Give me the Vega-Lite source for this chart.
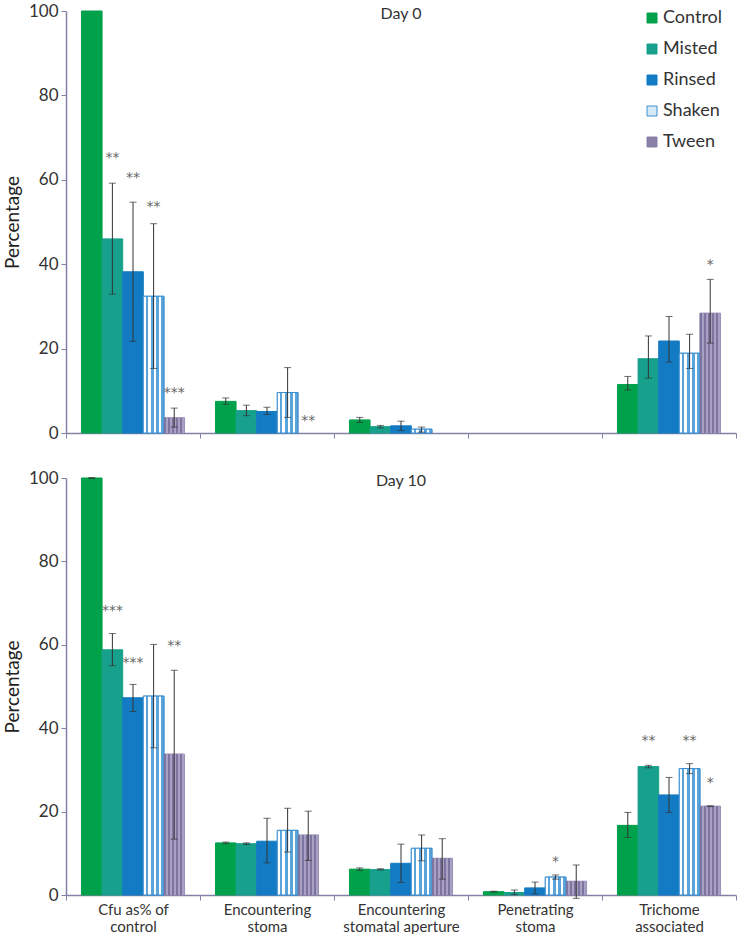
{
  "$schema": "https://vega.github.io/schema/vega-lite/v6.json",
  "padding": {"left": 3, "top": 2, "right": 4, "bottom": 0},
  "spacing": 28,
  "config": {
    "view": {"stroke": null},
    "font": "Lato",
    "axis": {"domainColor": "#8282a8", "domainWidth": 1.5, "tickColor": "#8282a8", "tickSize": 5, "labelColor": "#333333", "titleColor": "#222222", "grid": false},
    "legend": {"labelFont": "Lato", "labelFontSize": 18, "labelColor": "#333333"}
  },
  "datasets": {
    "bars": [
      {"day": "Day 0", "measure": "Cfu as% of control", "treatment": "Control", "value": 100},
      {"day": "Day 0", "measure": "Cfu as% of control", "treatment": "Misted", "value": 46, "lo": 32.9, "hi": 59.2, "sig": "**", "sigY": 66},
      {"day": "Day 0", "measure": "Cfu as% of control", "treatment": "Rinsed", "value": 38.2, "lo": 21.7, "hi": 54.7, "sig": "**", "sigY": 61.4},
      {"day": "Day 0", "measure": "Cfu as% of control", "treatment": "Shaken", "value": 32.4, "lo": 15.3, "hi": 49.6, "sig": "**", "sigY": 54.5},
      {"day": "Day 0", "measure": "Cfu as% of control", "treatment": "Tween", "value": 3.6, "lo": 1.4, "hi": 5.9, "sig": "***", "sigY": 10.4},
      {"day": "Day 0", "measure": "Encountering stoma", "treatment": "Control", "value": 7.5, "lo": 6.8, "hi": 8.3},
      {"day": "Day 0", "measure": "Encountering stoma", "treatment": "Misted", "value": 5.3, "lo": 4.1, "hi": 6.6},
      {"day": "Day 0", "measure": "Encountering stoma", "treatment": "Rinsed", "value": 5.1, "lo": 4.4, "hi": 6.1},
      {"day": "Day 0", "measure": "Encountering stoma", "treatment": "Shaken", "value": 9.6, "lo": 3.7, "hi": 15.5},
      {"day": "Day 0", "measure": "Encountering stoma", "treatment": "Tween", "value": 0, "sig": "**", "sigY": 3.7},
      {"day": "Day 0", "measure": "Encountering stomatal aperture", "treatment": "Control", "value": 3.1, "lo": 2.5, "hi": 3.7},
      {"day": "Day 0", "measure": "Encountering stomatal aperture", "treatment": "Misted", "value": 1.5, "lo": 1.2, "hi": 1.8},
      {"day": "Day 0", "measure": "Encountering stomatal aperture", "treatment": "Rinsed", "value": 1.7, "lo": 0.6, "hi": 2.8},
      {"day": "Day 0", "measure": "Encountering stomatal aperture", "treatment": "Shaken", "value": 0.9, "lo": 0.2, "hi": 1.4},
      {"day": "Day 0", "measure": "Encountering stomatal aperture", "treatment": "Tween", "value": 0},
      {"day": "Day 0", "measure": "Penetrating stoma", "treatment": "Control", "value": 0},
      {"day": "Day 0", "measure": "Penetrating stoma", "treatment": "Misted", "value": 0},
      {"day": "Day 0", "measure": "Penetrating stoma", "treatment": "Rinsed", "value": 0},
      {"day": "Day 0", "measure": "Penetrating stoma", "treatment": "Shaken", "value": 0},
      {"day": "Day 0", "measure": "Penetrating stoma", "treatment": "Tween", "value": 0},
      {"day": "Day 0", "measure": "Trichome associated", "treatment": "Control", "value": 11.5, "lo": 10.2, "hi": 13.4},
      {"day": "Day 0", "measure": "Trichome associated", "treatment": "Misted", "value": 17.6, "lo": 13, "hi": 23},
      {"day": "Day 0", "measure": "Trichome associated", "treatment": "Rinsed", "value": 21.8, "lo": 16.8, "hi": 27.6},
      {"day": "Day 0", "measure": "Trichome associated", "treatment": "Shaken", "value": 18.9, "lo": 15.3, "hi": 23.4},
      {"day": "Day 0", "measure": "Trichome associated", "treatment": "Tween", "value": 28.4, "lo": 21.3, "hi": 36.4, "sig": "*", "sigY": 40.8},
      {"day": "Day 10", "measure": "Cfu as% of control", "treatment": "Control", "value": 100, "lo": 99.9, "hi": 100.1},
      {"day": "Day 10", "measure": "Cfu as% of control", "treatment": "Misted", "value": 58.8, "lo": 55.0, "hi": 62.7, "sig": "***", "sigY": 69.1},
      {"day": "Day 10", "measure": "Cfu as% of control", "treatment": "Rinsed", "value": 47.3, "lo": 44.0, "hi": 50.5, "sig": "***", "sigY": 56.6},
      {"day": "Day 10", "measure": "Cfu as% of control", "treatment": "Shaken", "value": 47.7, "lo": 35.3, "hi": 60.1},
      {"day": "Day 10", "measure": "Cfu as% of control", "treatment": "Tween", "value": 33.8, "lo": 13.4, "hi": 53.9, "sig": "**", "sigY": 60.7},
      {"day": "Day 10", "measure": "Encountering stoma", "treatment": "Control", "value": 12.5, "lo": 12.3, "hi": 12.7},
      {"day": "Day 10", "measure": "Encountering stoma", "treatment": "Misted", "value": 12.3, "lo": 12.1, "hi": 12.5},
      {"day": "Day 10", "measure": "Encountering stoma", "treatment": "Rinsed", "value": 12.9, "lo": 7.7, "hi": 18.4},
      {"day": "Day 10", "measure": "Encountering stoma", "treatment": "Shaken", "value": 15.5, "lo": 10.3, "hi": 20.8},
      {"day": "Day 10", "measure": "Encountering stoma", "treatment": "Tween", "value": 14.4, "lo": 8.3, "hi": 20.1},
      {"day": "Day 10", "measure": "Encountering stomatal aperture", "treatment": "Control", "value": 6.2, "lo": 5.9, "hi": 6.5},
      {"day": "Day 10", "measure": "Encountering stomatal aperture", "treatment": "Misted", "value": 6.1, "lo": 6.0, "hi": 6.3},
      {"day": "Day 10", "measure": "Encountering stomatal aperture", "treatment": "Rinsed", "value": 7.6, "lo": 3.0, "hi": 12.2},
      {"day": "Day 10", "measure": "Encountering stomatal aperture", "treatment": "Shaken", "value": 11.2, "lo": 8.2, "hi": 14.4},
      {"day": "Day 10", "measure": "Encountering stomatal aperture", "treatment": "Tween", "value": 8.8, "lo": 3.8, "hi": 13.5},
      {"day": "Day 10", "measure": "Penetrating stoma", "treatment": "Control", "value": 0.8, "lo": 0.7, "hi": 0.9},
      {"day": "Day 10", "measure": "Penetrating stoma", "treatment": "Misted", "value": 0.6, "lo": 0.1, "hi": 1.2},
      {"day": "Day 10", "measure": "Penetrating stoma", "treatment": "Rinsed", "value": 1.7, "lo": 0.3, "hi": 3.1},
      {"day": "Day 10", "measure": "Penetrating stoma", "treatment": "Shaken", "value": 4.3, "lo": 3.8, "hi": 4.8, "sig": "*", "sigY": 8.8},
      {"day": "Day 10", "measure": "Penetrating stoma", "treatment": "Tween", "value": 3.3, "lo": -0.8, "hi": 7.2},
      {"day": "Day 10", "measure": "Trichome associated", "treatment": "Control", "value": 16.7, "lo": 13.8, "hi": 19.8},
      {"day": "Day 10", "measure": "Trichome associated", "treatment": "Misted", "value": 30.8, "lo": 30.5, "hi": 31.1, "sig": "**", "sigY": 37.8},
      {"day": "Day 10", "measure": "Trichome associated", "treatment": "Rinsed", "value": 24, "lo": 19.8, "hi": 28.2},
      {"day": "Day 10", "measure": "Trichome associated", "treatment": "Shaken", "value": 30.3, "lo": 29.1, "hi": 31.5, "sig": "**", "sigY": 37.8},
      {"day": "Day 10", "measure": "Trichome associated", "treatment": "Tween", "value": 21.3, "lo": 21.2, "hi": 21.4, "sig": "*", "sigY": 27.7}
    ],
    "panels": [
      {"day": "Day 0", "measure": "Encountering stomatal aperture", "y": 99.2},
      {"day": "Day 10", "measure": "Encountering stomatal aperture", "y": 99.2}
    ]
  },
  "resolve": {"scale": {"fill": "independent", "stroke": "independent"}, "legend": {"fill": "independent", "stroke": "independent"}},
  "vconcat": [
    {
      "width": 670,
      "height": 422,
      "data": {"name": "bars"},
      "encoding": {
        "x": {"field": "measure", "type": "nominal", "sort": null,
          "scale": {"domain": ["Cfu as% of control", "Encountering stoma", "Encountering stomatal aperture", "Penetrating stoma", "Trichome associated"], "paddingInner": 0, "paddingOuter": 0},
          "axis": {"title": null, "labels": false, "tickBand": "extent", "labelAngle": 0}},
        "xOffset": {"field": "treatment", "type": "nominal", "scale": {"domain": ["Control", "Misted", "Rinsed", "Shaken", "Tween"], "paddingInner": 0, "paddingOuter": 0.75}}
      },
      "layer": [
        {
          "transform": [{"filter": "datum.day == 'Day 0' && datum.value > 0"}],
          "mark": {"type": "bar", "strokeWidth": 1},
          "encoding": {
            "y": {"field": "value", "type": "quantitative", "scale": {"domain": [0, 100], "nice": false},
              "axis": {"title": "Percentage", "titleFontSize": 19, "titleFontWeight": "normal", "titlePadding": 6, "values": [0, 20, 40, 60, 80, 100], "labelFontSize": 17, "labelPadding": 3}},
            "fill": {"field": "treatment", "type": "nominal", "scale": {"domain": ["Control", "Misted", "Rinsed", "Shaken", "Tween"], "range": ["#00a14b", "#17a08b", "#137ac4", "#d5e9f7", "#8a81a8"]},
              "legend": {"title": null, "orient": "none", "legendX": 577, "legendY": -2, "padding": 0, "symbolType": "square", "symbolSize": 100, "rowPadding": 13, "labelOffset": 2, "symbolStrokeWidth": 1}},
            "stroke": {"field": "treatment", "type": "nominal", "scale": {"domain": ["Control", "Misted", "Rinsed", "Shaken", "Tween"], "range": ["#00a14b", "#17a08b", "#137ac4", "#3c8fd0", "#8a81a8"]},
              "legend": {"title": null, "orient": "none", "legendX": 577, "legendY": -2, "padding": 0, "symbolType": "square", "symbolSize": 100, "rowPadding": 13, "labelOffset": 2, "symbolStrokeWidth": 1}}
          }
        },
        {
          "transform": [{"filter": "datum.day == 'Day 0' && datum.value > 0 && datum.treatment == 'Shaken'"}],
          "mark": {"type": "bar", "stroke": "#3c8fd0", "strokeWidth": 1,
            "fill": {"gradient": "linear", "x1": 0, "y1": 0, "x2": 1, "y2": 0, "stops": [
              {"offset": 0, "color": "#ffffff"}, {"offset": 0.13, "color": "#ffffff"}, {"offset": 0.13, "color": "#5aa4dc"}, {"offset": 0.25, "color": "#5aa4dc"},
              {"offset": 0.25, "color": "#ffffff"}, {"offset": 0.38, "color": "#ffffff"}, {"offset": 0.38, "color": "#5aa4dc"}, {"offset": 0.5, "color": "#5aa4dc"},
              {"offset": 0.5, "color": "#ffffff"}, {"offset": 0.63, "color": "#ffffff"}, {"offset": 0.63, "color": "#5aa4dc"}, {"offset": 0.75, "color": "#5aa4dc"},
              {"offset": 0.75, "color": "#ffffff"}, {"offset": 0.88, "color": "#ffffff"}, {"offset": 0.88, "color": "#5aa4dc"}, {"offset": 1, "color": "#5aa4dc"}]}},
          "encoding": {"y": {"field": "value", "type": "quantitative"}}
        },
        {
          "transform": [{"filter": "datum.day == 'Day 0' && datum.value > 0 && datum.treatment == 'Tween'"}],
          "mark": {"type": "bar",
            "fill": {"gradient": "linear", "x1": 0, "y1": 0, "x2": 1, "y2": 0, "stops": [
              {"offset": 0, "color": "#7d749f"}, {"offset": 0.1, "color": "#7d749f"}, {"offset": 0.1, "color": "#a8a1c4"}, {"offset": 0.2, "color": "#a8a1c4"},
              {"offset": 0.2, "color": "#7d749f"}, {"offset": 0.3, "color": "#7d749f"}, {"offset": 0.3, "color": "#a8a1c4"}, {"offset": 0.4, "color": "#a8a1c4"},
              {"offset": 0.4, "color": "#7d749f"}, {"offset": 0.5, "color": "#7d749f"}, {"offset": 0.5, "color": "#a8a1c4"}, {"offset": 0.6, "color": "#a8a1c4"},
              {"offset": 0.6, "color": "#7d749f"}, {"offset": 0.7, "color": "#7d749f"}, {"offset": 0.7, "color": "#a8a1c4"}, {"offset": 0.8, "color": "#a8a1c4"},
              {"offset": 0.8, "color": "#7d749f"}, {"offset": 0.9, "color": "#7d749f"}, {"offset": 0.9, "color": "#a8a1c4"}, {"offset": 1, "color": "#a8a1c4"}]}},
          "encoding": {"y": {"field": "value", "type": "quantitative"}}
        },
        {
          "transform": [{"filter": "datum.day == 'Day 0' && isValid(datum.lo)"}],
          "mark": {"type": "rule", "color": "#333333", "strokeWidth": 1},
          "encoding": {"y": {"field": "lo", "type": "quantitative"}, "y2": {"field": "hi"}}
        },
        {
          "transform": [{"filter": "datum.day == 'Day 0' && isValid(datum.lo)"}],
          "mark": {"type": "tick", "color": "#333333", "size": 7, "thickness": 1},
          "encoding": {"y": {"field": "lo", "type": "quantitative"}}
        },
        {
          "transform": [{"filter": "datum.day == 'Day 0' && isValid(datum.hi)"}],
          "mark": {"type": "tick", "color": "#333333", "size": 7, "thickness": 1},
          "encoding": {"y": {"field": "hi", "type": "quantitative"}}
        },
        {
          "transform": [{"filter": "datum.day == 'Day 0' && isValid(datum.sig)"}],
          "mark": {"type": "text", "font": "DejaVu Sans", "fontSize": 14, "color": "#666666", "baseline": "middle", "dy": 4},
          "encoding": {"y": {"field": "sigY", "type": "quantitative"}, "text": {"field": "sig"}}
        },
        {
          "data": {"name": "panels"},
          "transform": [{"filter": "datum.day == 'Day 0'"}],
          "mark": {"type": "text", "fontSize": 16, "color": "#333333", "baseline": "middle"},
          "encoding": {"x": {"field": "measure", "type": "nominal"}, "xOffset": null, "y": {"field": "y", "type": "quantitative"}, "text": {"field": "day"}}
        }
      ]
    },
    {
      "width": 670,
      "height": 417,
      "data": {"name": "bars"},
      "encoding": {
        "x": {"field": "measure", "type": "nominal", "sort": null,
          "scale": {"domain": ["Cfu as% of control", "Encountering stoma", "Encountering stomatal aperture", "Penetrating stoma", "Trichome associated"], "paddingInner": 0, "paddingOuter": 0},
          "axis": {"title": null, "tickBand": "extent", "labelAngle": 0, "labelFontSize": 15, "labelPadding": 2, "labelLineHeight": 17,
            "labelExpr": "datum.value == 'Cfu as% of control' ? ['Cfu as% of', 'control'] : datum.value == 'Encountering stoma' ? ['Encountering', 'stoma'] : datum.value == 'Encountering stomatal aperture' ? ['Encountering', 'stomatal aperture'] : datum.value == 'Penetrating stoma' ? ['Penetrating', 'stoma'] : datum.value == 'Trichome associated' ? ['Trichome', 'associated'] : ''"}},
        "xOffset": {"field": "treatment", "type": "nominal", "scale": {"domain": ["Control", "Misted", "Rinsed", "Shaken", "Tween"], "paddingInner": 0, "paddingOuter": 0.75}}
      },
      "layer": [
        {
          "transform": [{"filter": "datum.day == 'Day 10' && datum.value > 0"}],
          "mark": {"type": "bar", "strokeWidth": 1},
          "encoding": {
            "y": {"field": "value", "type": "quantitative", "scale": {"domain": [0, 100], "nice": false},
              "axis": {"title": "Percentage", "titleFontSize": 19, "titleFontWeight": "normal", "titlePadding": 6, "values": [0, 20, 40, 60, 80, 100], "labelFontSize": 17, "labelPadding": 3}},
            "fill": {"field": "treatment", "type": "nominal", "scale": {"domain": ["Control", "Misted", "Rinsed", "Shaken", "Tween"], "range": ["#00a14b", "#17a08b", "#137ac4", "#d5e9f7", "#8a81a8"]}, "legend": null},
            "stroke": {"field": "treatment", "type": "nominal", "scale": {"domain": ["Control", "Misted", "Rinsed", "Shaken", "Tween"], "range": ["#00a14b", "#17a08b", "#137ac4", "#3c8fd0", "#8a81a8"]}, "legend": null}
          }
        },
        {
          "transform": [{"filter": "datum.day == 'Day 10' && datum.value > 0 && datum.treatment == 'Shaken'"}],
          "mark": {"type": "bar", "stroke": "#3c8fd0", "strokeWidth": 1,
            "fill": {"gradient": "linear", "x1": 0, "y1": 0, "x2": 1, "y2": 0, "stops": [
              {"offset": 0, "color": "#ffffff"}, {"offset": 0.13, "color": "#ffffff"}, {"offset": 0.13, "color": "#5aa4dc"}, {"offset": 0.25, "color": "#5aa4dc"},
              {"offset": 0.25, "color": "#ffffff"}, {"offset": 0.38, "color": "#ffffff"}, {"offset": 0.38, "color": "#5aa4dc"}, {"offset": 0.5, "color": "#5aa4dc"},
              {"offset": 0.5, "color": "#ffffff"}, {"offset": 0.63, "color": "#ffffff"}, {"offset": 0.63, "color": "#5aa4dc"}, {"offset": 0.75, "color": "#5aa4dc"},
              {"offset": 0.75, "color": "#ffffff"}, {"offset": 0.88, "color": "#ffffff"}, {"offset": 0.88, "color": "#5aa4dc"}, {"offset": 1, "color": "#5aa4dc"}]}},
          "encoding": {"y": {"field": "value", "type": "quantitative"}}
        },
        {
          "transform": [{"filter": "datum.day == 'Day 10' && datum.value > 0 && datum.treatment == 'Tween'"}],
          "mark": {"type": "bar",
            "fill": {"gradient": "linear", "x1": 0, "y1": 0, "x2": 1, "y2": 0, "stops": [
              {"offset": 0, "color": "#7d749f"}, {"offset": 0.1, "color": "#7d749f"}, {"offset": 0.1, "color": "#a8a1c4"}, {"offset": 0.2, "color": "#a8a1c4"},
              {"offset": 0.2, "color": "#7d749f"}, {"offset": 0.3, "color": "#7d749f"}, {"offset": 0.3, "color": "#a8a1c4"}, {"offset": 0.4, "color": "#a8a1c4"},
              {"offset": 0.4, "color": "#7d749f"}, {"offset": 0.5, "color": "#7d749f"}, {"offset": 0.5, "color": "#a8a1c4"}, {"offset": 0.6, "color": "#a8a1c4"},
              {"offset": 0.6, "color": "#7d749f"}, {"offset": 0.7, "color": "#7d749f"}, {"offset": 0.7, "color": "#a8a1c4"}, {"offset": 0.8, "color": "#a8a1c4"},
              {"offset": 0.8, "color": "#7d749f"}, {"offset": 0.9, "color": "#7d749f"}, {"offset": 0.9, "color": "#a8a1c4"}, {"offset": 1, "color": "#a8a1c4"}]}},
          "encoding": {"y": {"field": "value", "type": "quantitative"}}
        },
        {
          "transform": [{"filter": "datum.day == 'Day 10' && isValid(datum.lo)"}],
          "mark": {"type": "rule", "color": "#333333", "strokeWidth": 1},
          "encoding": {"y": {"field": "lo", "type": "quantitative"}, "y2": {"field": "hi"}}
        },
        {
          "transform": [{"filter": "datum.day == 'Day 10' && isValid(datum.lo)"}],
          "mark": {"type": "tick", "color": "#333333", "size": 7, "thickness": 1},
          "encoding": {"y": {"field": "lo", "type": "quantitative"}}
        },
        {
          "transform": [{"filter": "datum.day == 'Day 10' && isValid(datum.hi)"}],
          "mark": {"type": "tick", "color": "#333333", "size": 7, "thickness": 1},
          "encoding": {"y": {"field": "hi", "type": "quantitative"}}
        },
        {
          "transform": [{"filter": "datum.day == 'Day 10' && isValid(datum.sig)"}],
          "mark": {"type": "text", "font": "DejaVu Sans", "fontSize": 14, "color": "#666666", "baseline": "middle", "dy": 4},
          "encoding": {"y": {"field": "sigY", "type": "quantitative"}, "text": {"field": "sig"}}
        },
        {
          "data": {"name": "panels"},
          "transform": [{"filter": "datum.day == 'Day 10'"}],
          "mark": {"type": "text", "fontSize": 16, "color": "#333333", "baseline": "middle"},
          "encoding": {"x": {"field": "measure", "type": "nominal"}, "xOffset": null, "y": {"field": "y", "type": "quantitative"}, "text": {"field": "day"}}
        }
      ]
    }
  ]
}
